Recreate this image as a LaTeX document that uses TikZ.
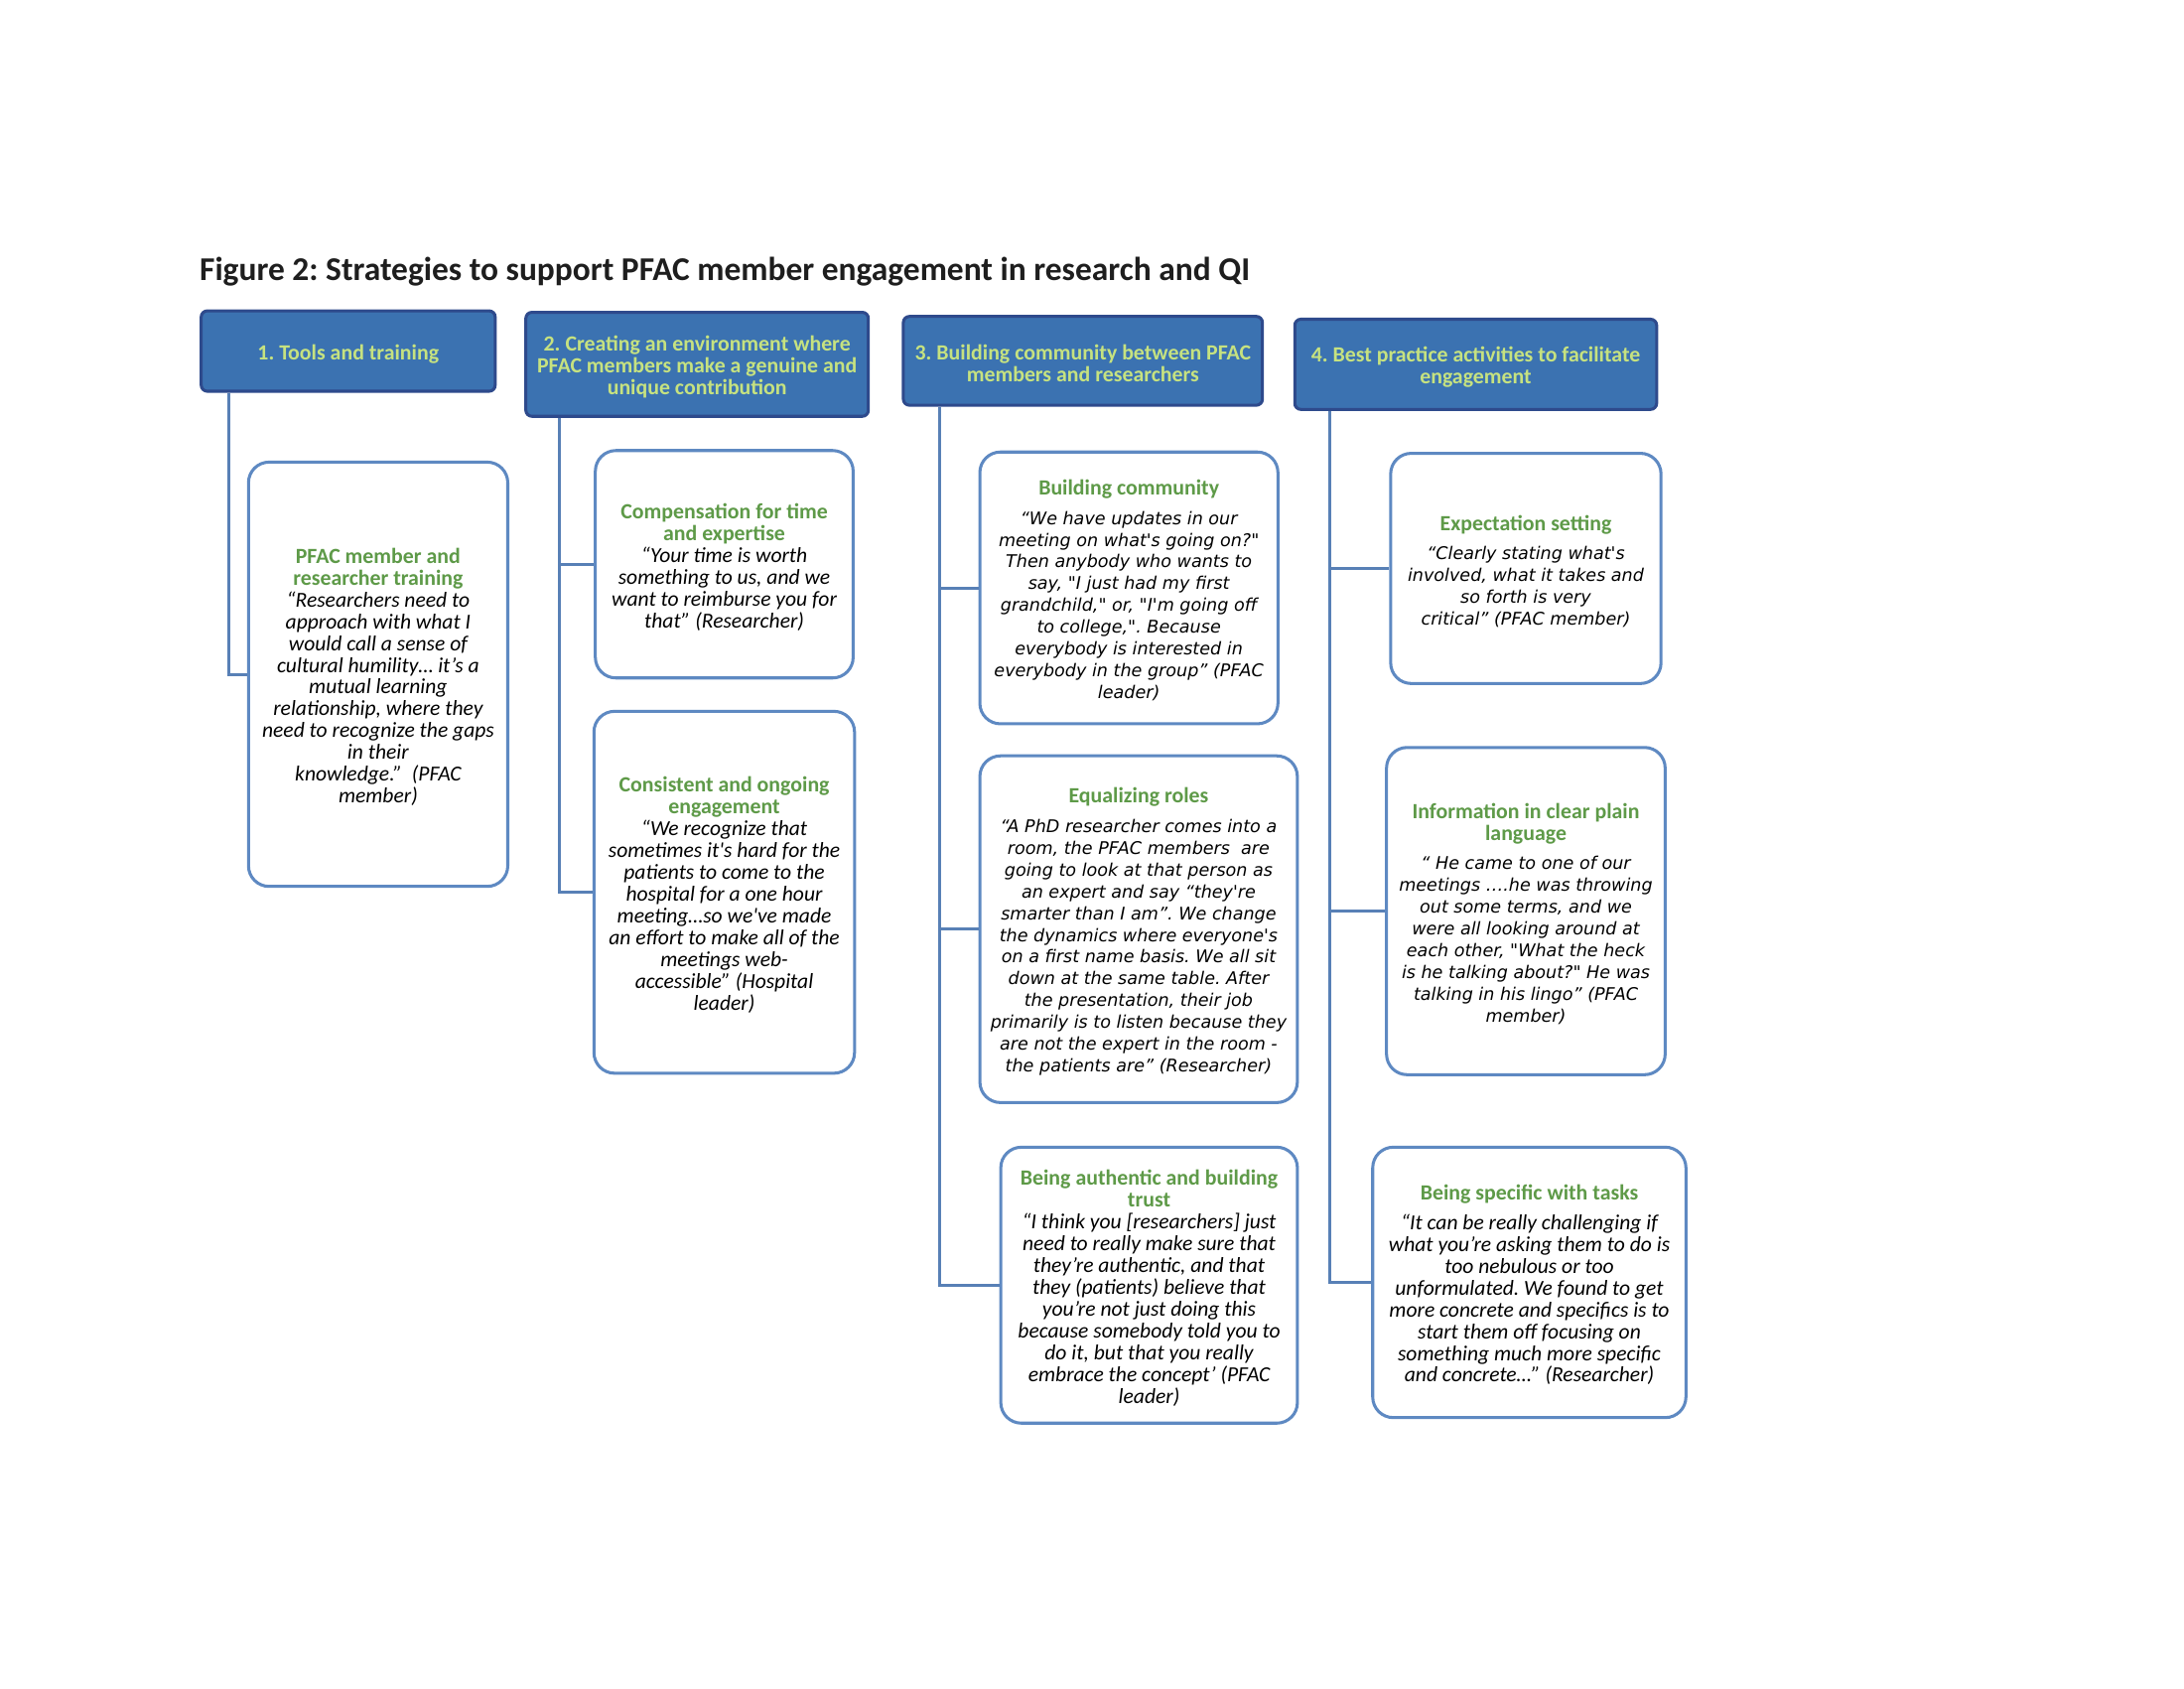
\documentclass[tikz,border=0pt]{standalone}
\usepackage{fontspec}
\setmainfont{Carlito}
\newfontfamily\vfont{DejaVu Sans}
\usetikzlibrary{calc}
\frenchspacing
\definecolor{hfill}{RGB}{59,114,177}
\definecolor{hdraw}{RGB}{46,74,140}
\definecolor{htext}{RGB}{198,226,128}
\definecolor{gtitle}{RGB}{94,154,72}
\definecolor{bline}{RGB}{94,137,194}
\definecolor{cline}{RGB}{88,128,182}
\definecolor{ttext}{RGB}{30,30,30}
\newcommand\ttl[1]{{\rmfamily\fontsize{7.9}{7.95}\selectfont\upshape\bfseries\color{gtitle}#1}}
\begin{document}
\frenchspacing
\begin{tikzpicture}[x=0.005in,y=-0.005in,
 hbox/.style 2 args={draw=hdraw, fill=hfill, line width=1.1pt, rounded corners=2.2pt,
   minimum width=#1*0.36pt, minimum height=#2*0.36pt, inner sep=0pt},
 htxt/.style={inner sep=0pt, align=center, text=htext, font=\frenchspacing\fontsize{7.9}{7.95}\selectfont\bfseries},
 cbox/.style 2 args={draw=bline, fill=white, line width=1.1pt, rounded corners=7.5pt,
   minimum width=#1*0.36pt, minimum height=#2*0.36pt, inner sep=0pt},
 ctxt/.style={inner sep=0pt, align=center, text=black, font=\frenchspacing\fontsize{7.8}{7.95}\selectfont\itshape},
 vtxt/.style={inner sep=0pt, align=center, text=black, font=\frenchspacing\vfont\fontsize{6.35}{7.95}\selectfont\itshape},
 conn/.style={draw=cline, line width=1.05pt}
]
\fill[white] (0,0) rectangle (2200,1700);
\useasboundingbox (0,0) rectangle (2200,1700);

\node[anchor=west, inner sep=0pt, font=\frenchspacing\fontsize{12.1}{14}\selectfont\bfseries, text=ttext] (title) at (200.6,273.6)
  {Figure 2: Strategies to support PFAC member engagement in research and QI};

% headers
\node[hbox={297.5}{81.3}] (H1) at (350.75,353.55) {};
\node[htxt] (h1t) at ([yshift=-1pt]H1.center) {1. Tools and training};
\node[hbox={346.6}{105.2}] (H2) at (702.2,366.9) {};
\node[htxt] (h2t) at ([yshift=-1pt]H2.center) {2. Creating an environment where\\PFAC members make a genuine and\\unique contribution};
\node[hbox={363.4}{89.8}] (H3) at (1090.8,363.4) {};
\node[htxt] (h3t) at ([yshift=-1pt]H3.center) {3. Building community between PFAC\\members and researchers};
\node[hbox={366.2}{91.2}] (H4) at (1486.5,366.9) {};
\node[htxt] (h4t) at ([yshift=-1pt]H4.center) {4. Best practice activities to facilitate\\engagement};

% column 1
\node[cbox={262.4}{429.3}] (B1) at (380.9,679.05) {};
\node[ctxt] (b1t) at ([yshift=-1pt]B1.center) {\ttl{PFAC member and}\\\ttl{researcher training}\\“Researchers need to\\approach with what I\\would call a sense of\\cultural humility… it’s a\\mutual learning\\relationship, where they\\need to recognize the gaps\\in their\\knowledge.”~ (PFAC\\member)};

% column 2
\node[cbox={260.9}{230.1}] (B2a) at (729.55,568.25) {};
\node[ctxt] (b2at) at ([yshift=-1pt]B2a.center) {\ttl{Compensation for time}\\\ttl{and expertise}\\“Your time is worth\\something to us, and we\\want to reimburse you for\\that” (Researcher)};
\node[cbox={263.7}{366.2}] (B2b) at (729.55,898.6) {};
\node[ctxt] (b2bt) at ([yshift=-1pt]B2b.center) {\ttl{Consistent and ongoing}\\\ttl{engagement}\\“We recognize that\\sometimes it\textquotesingle s hard for the\\patients to come to the\\hospital for a one hour\\meeting…so we\textquotesingle ve made\\an effort to make all of the\\meetings web-\\accessible” (Hospital\\leader)};

% column 3
\node[cbox={301.7}{275}] (B3a) at (1137.15,592.1) {};
\node[vtxt] (b3at) at ([yshift=-1pt]B3a.center) {\ttl{Building community}\\[2.6pt]“We have updates in our\\meeting on what's going on?"\\Then anybody who wants to\\say, "I just had my first\\grandchild," or, "I'm going off\\to college,". Because\\everybody is interested in\\everybody in the group” (PFAC\\leader)};
\node[cbox={321.3}{350.8}] (B3b) at (1146.95,935.8) {};
\node[vtxt] (b3bt) at ([yshift=-1pt]B3b.center) {\ttl{Equalizing roles}\\[2.6pt]“A PhD researcher comes into a\\room, the PFAC members~ are\\going to look at that person as\\an expert and say “they're\\smarter than I am”. We change\\the dynamics where everyone's\\on a first name basis. We all sit\\down at the same table. After\\the presentation, their job\\primarily is to listen because they\\are not the expert in the room -\\the patients are” (Researcher)};
\node[cbox={300.2}{279.2}] (B3c) at (1157.5,1294.3) {};
\node[ctxt] (b3ct) at ([yshift=-1pt]B3c.center) {\ttl{Being authentic and building}\\\ttl{trust}\\“I think you [researchers] just\\need to really make sure that\\they’re authentic, and that\\they (patients) believe that\\you’re not just doing this\\because somebody told you to\\do it, but that you really\\embrace the concept’ (PFAC\\leader)};

% column 4
\node[cbox={273.6}{232.9}] (B4a) at (1537,572.45) {};
\node[vtxt] (b4at) at ([yshift=-1pt]B4a.center) {\ttl{Expectation setting}\\[2.6pt]“Clearly stating what's\\involved, what it takes and\\so forth is very\\critical” (PFAC member)};
\node[cbox={282}{331.1}] (B4b) at (1537,917.55) {};
\node[vtxt] (b4bt) at ([yshift=-1pt]B4b.center) {\ttl{Information in clear plain}\\\ttl{language}\\[2.6pt]“ He came to one of our\\meetings ….he was throwing\\out some terms, and we\\were all looking around at\\each other, "What the heck\\is he talking about?" He was\\talking in his lingo” (PFAC\\member)};
\node[cbox={317}{273.6}] (B4c) at (1540.5,1291.5) {};
\node[ctxt] (b4ct) at ([yshift=-1pt]B4c.center) {\ttl{Being specific with tasks}\\[2.6pt]“It can be really challenging if\\what you’re asking them to do is\\too nebulous or too\\unformulated. We found to get\\more concrete and specifics is to\\start them off focusing on\\something much more specific\\and concrete…” (Researcher)};

% connectors
\draw[conn] ($(H1.south west)+(29.5,0)$) |- (B1.west);
\draw[conn] ($(H2.south west)+(35.1,0)$) |- (B2a.west);
\draw[conn] ($(H2.south west)+(35.1,0)$) |- (B2b.west);
\draw[conn] ($(H3.south west)+(37.9,0)$) |- (B3a.west);
\draw[conn] ($(H3.south west)+(37.9,0)$) |- (B3b.west);
\draw[conn] ($(H3.south west)+(37.9,0)$) |- (B3c.west);
\draw[conn] ($(H4.south west)+(36.5,0)$) |- (B4a.west);
\draw[conn] ($(H4.south west)+(36.5,0)$) |- (B4b.west);
\draw[conn] ($(H4.south west)+(36.5,0)$) |- (B4c.west);
\end{tikzpicture}
\end{document}
